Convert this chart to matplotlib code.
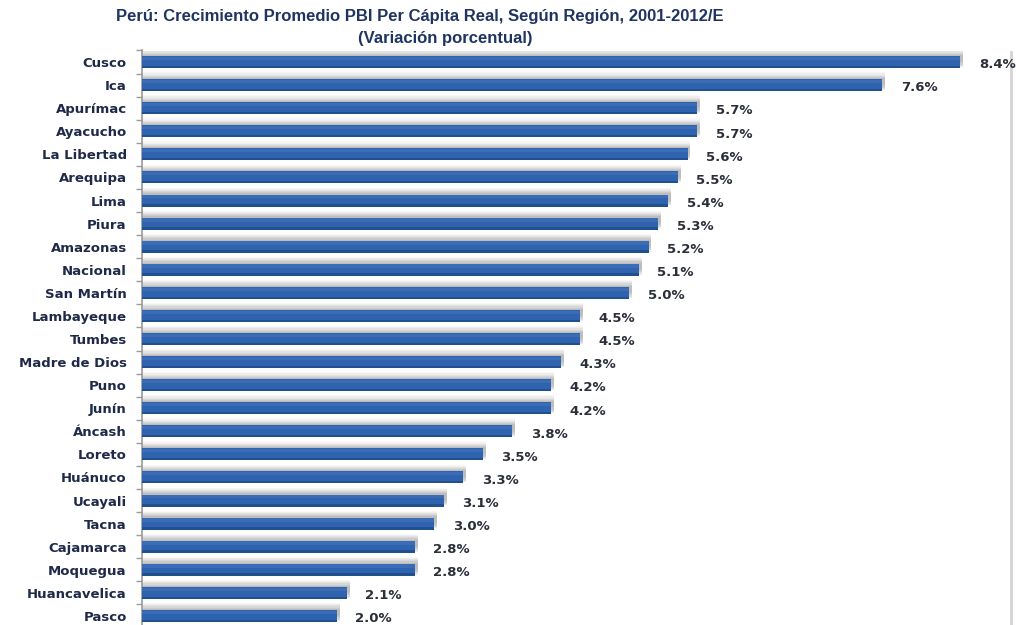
import matplotlib
matplotlib.use("Agg")
import matplotlib.pyplot as plt
import numpy as np

regions = ["Cusco", "Ica", "Apurímac", "Ayacucho", "La Libertad", "Arequipa",
           "Lima", "Piura", "Amazonas", "Nacional", "San Martín", "Lambayeque",
           "Tumbes", "Madre de Dios", "Puno", "Junín", "Áncash", "Loreto",
           "Huánuco", "Ucayali", "Tacna", "Cajamarca", "Moquegua",
           "Huancavelica", "Pasco"]
growth = [8.4, 7.6, 5.7, 5.7, 5.6, 5.5, 5.4, 5.3, 5.2, 5.1, 5.0, 4.5, 4.5,
          4.3, 4.2, 4.2, 3.8, 3.5, 3.3, 3.1, 3.0, 2.8, 2.8, 2.1, 2.0]

W, H = 1016, 625
fig = plt.figure(figsize=(W / 100, H / 100), dpi=100)
fig.patch.set_facecolor("white")

left, right = 142 / W, 1010 / W
top_px, bot_px = 50.5, 627.5
ax = fig.add_axes([left, 1 - bot_px / H, right - left, (bot_px - top_px) / H])

y = np.arange(len(regions))
bar_h = 0.52

# soft shadow above each bar, fading upwards
layers = [(0.30, 0.05), (0.25, 0.06), (0.20, 0.08), (0.15, 0.10),
          (0.10, 0.12), (0.05, 0.14)]
for dy, a in layers:
    ax.barh(y - dy, [v + 0.03 for v in growth], height=bar_h,
            color="#6e6e6e", alpha=a, linewidth=0, zorder=1)

# main bars
ax.barh(y, growth, height=bar_h, color="#2F63AF", linewidth=0, zorder=3)
ax.barh(y + bar_h / 2 - 0.05, growth, height=0.10, color="#21508F",
        linewidth=0, zorder=4)
ax.barh(y - bar_h / 2 + 0.10, growth, height=0.14, color="#4778BF",
        linewidth=0, zorder=4, alpha=0.5)

for yi, v in zip(y, growth):
    ax.text(v + 0.19, yi + 0.12, f"{v:.1f}%", ha="left", va="center",
            fontsize=9.5, fontweight="bold", color="#2B2F3A",
            family="DejaVu Sans", zorder=5)

ax.set_xlim(0, 8.91)
ax.set_ylim(len(regions) - 0.5, -0.5)
ax.set_yticks(y)
ax.set_yticklabels(regions, fontsize=9.5, fontweight="bold", color="#1E2A48",
                   family="DejaVu Sans")
ax.tick_params(axis="y", which="major", length=0, pad=11)
ax.set_yticks(np.arange(-0.5, len(regions), 1.0), minor=True)
ax.tick_params(axis="y", which="minor", length=4, color="#9a9a9a", width=1)
ax.set_xticks([])
for s in ["top", "right", "bottom"]:
    ax.spines[s].set_visible(False)
ax.spines["left"].set_color("#9a9a9a")
ax.spines["left"].set_linewidth(1.2)
ax.set_facecolor("none")

# light frame line on the right, behind the chart contents
fig.add_artist(plt.Line2D([1011 / W, 1011 / W], [0, 1 - 52 / H],
                          transform=fig.transFigure, color="#d4d4d4", lw=2,
                          zorder=-1))

fig.text(420 / W, 1 - 17 / H,
         "Perú: Crecimiento Promedio PBI Per Cápita Real, Según Región, 2001-2012/E",
         ha="center", va="center", fontsize=12, fontweight="bold",
         color="#1F3460", family="Liberation Sans")
fig.text(445 / W, 1 - 38 / H, "(Variación porcentual)",
         ha="center", va="center", fontsize=12, fontweight="bold",
         color="#1F3460", family="Liberation Sans")

fig.savefig("out.png", dpi=100, facecolor="white")
